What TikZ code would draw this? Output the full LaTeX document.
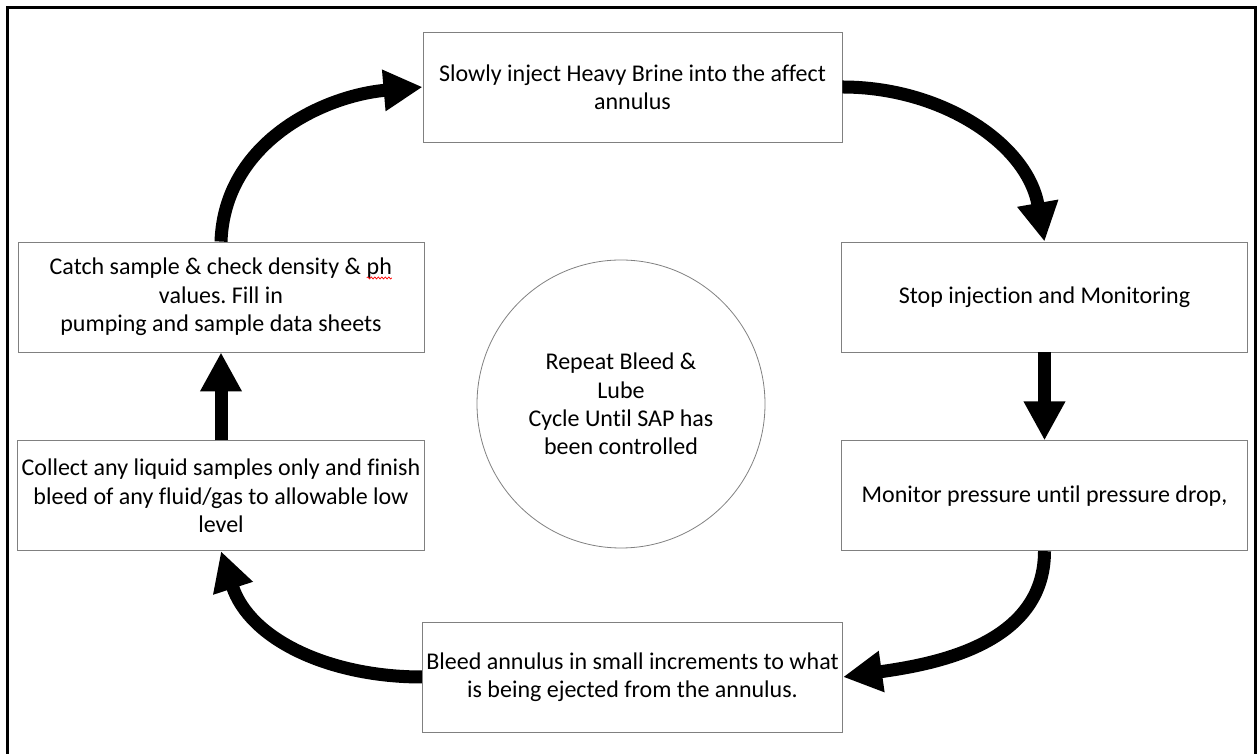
\documentclass[tikz,border=0pt]{standalone}
\usepackage{fontspec}
\setmainfont{Carlito}[Ligatures=NoCommon]
\usetikzlibrary{
	positioning,
	arrows.meta,
	decorations.pathmorphing
}

% red spell-check wave under a word
\newcommand\spellwave[1]{\tikz[baseline=(w.base)]{\node[shape=rectangle,draw=none,inner sep=0pt,outer sep=0pt,minimum width=0pt,minimum height=0pt] (w) {#1};
	\draw[red,line width=0.7pt,decorate,decoration={snake,amplitude=1pt,segment length=3.5pt}] ([yshift=-3pt]w.base west) -- ([yshift=-3pt]w.base east);}}

\begin{document}
\frenchspacing
\begin{tikzpicture}[x=1pt,y=1pt,
	stepbox/.style={draw=black!50,line width=0.8pt,minimum height=110pt,align=center,inner sep=4pt,font=\fontsize{24}{28.3}\selectfont},
	widebox/.style={stepbox,minimum width=419pt},
	sidebox/.style={stepbox,minimum width=406pt},
	cyclenote/.style={circle,draw=black!50,line width=0.8pt,minimum size=288pt,align=center,font=\fontsize{24}{28.3}\selectfont},
	flow/.style={line width=13pt,-{Triangle[length=39pt,width=39pt]}}
]
	\useasboundingbox (0,0) rectangle (1258,754);
	\draw[line width=3pt] (7.5,0) |- (1255.5,746.5) -- (1255.5,0);

	\node[cyclenote] (cycle) at (621,350) {Repeat Bleed \&\\ Lube\\ Cycle Until SAP has\\ been controlled};
	\node[widebox] (inject) at (632.5,667) {Slowly inject Heavy Brine into the affect\\ annulus};
	\node[sidebox] (stop) at (1044.5,457) {Stop injection and Monitoring};
	\node[sidebox,below=88pt of stop] (monitor) {Monitor pressure until pressure drop,};
	\node[widebox] (bleed) at (632.5,77) {Bleed annulus in small increments to what\\ is being ejected from the annulus.};
	\node[sidebox] (catch) at (221,457) {Catch sample \& check density \& \spellwave{ph}\\ values. Fill in\\ pumping and sample data sheets};
	\node[sidebox,below=88pt of catch] (collect) {Collect any liquid samples only and finish\\ bleed of any fluid/gas to allowable low\\ level};

	\draw[flow] (catch.north) to[out=88,in=185] (inject.west);
	\draw[flow] (inject.east) to[out=0,in=100] (stop.north);
	\draw[flow] (stop) -- (monitor);
	\draw[flow] (monitor.south) to[out=270,in=8] (bleed.east);
	\draw[flow] (bleed.west) to[out=180,in=-72] (collect.south);
	\draw[flow] (collect) -- (catch);
\end{tikzpicture}
\end{document}
